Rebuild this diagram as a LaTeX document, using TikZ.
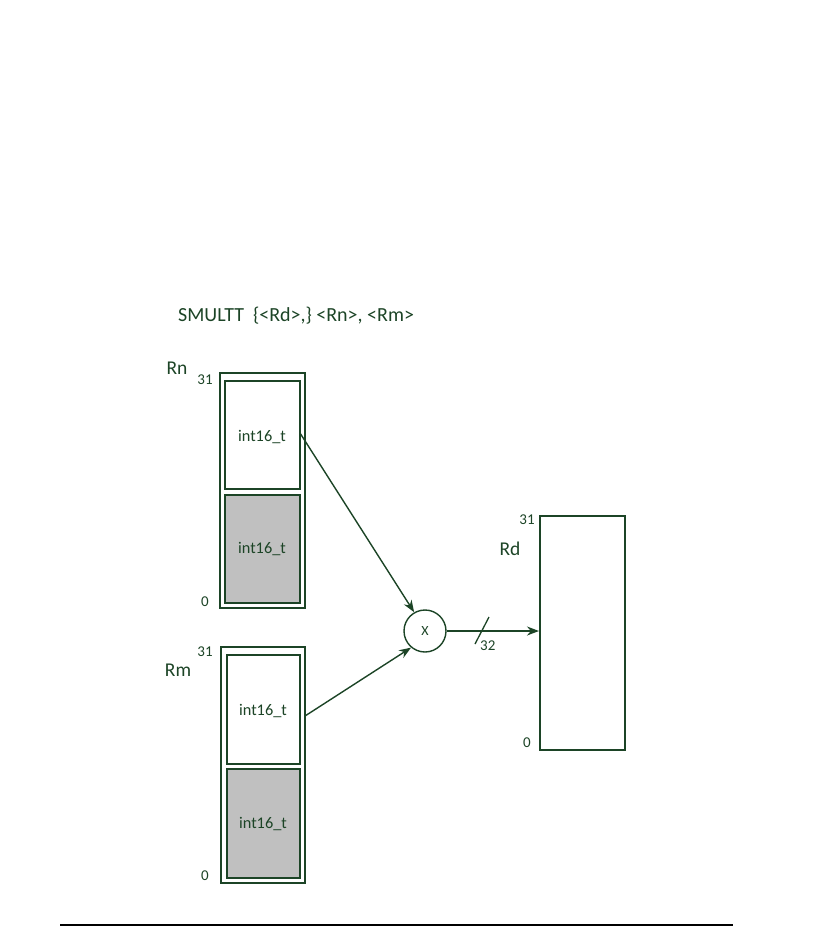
\documentclass[tikz,border=0pt]{standalone}
\usepackage{fontspec}
\setmainfont{Carlito}
\usetikzlibrary{arrows.meta}
\definecolor{dg}{RGB}{28,68,38}
\definecolor{cellgray}{RGB}{192,192,192}
\begin{document}
\begin{tikzpicture}[x=1pt,y=-1pt,
  box/.style={draw=dg,line width=1.7pt},
  cell/.style={draw=dg,line width=1.7pt},
  lbl/.style={text=dg,font=\fontsize{19.5}{22}\selectfont,inner sep=0pt},
  ttl/.style={text=dg,font=\fontsize{20}{23}\selectfont,inner sep=0pt},
  num/.style={text=dg,font=\fontsize{15}{17}\selectfont,inner sep=0pt},
  ctext/.style={text=dg,font=\fontsize{16.3}{18}\selectfont,inner sep=0pt},
  arr/.style={draw=dg,line width=1.4pt,-{Stealth[length=12pt,width=9pt]}}]
\useasboundingbox (0,0) rectangle (834,927);
% title
\node[ttl,anchor=west] (title) at (178,316) {SMULTT\ \ \{<Rd>,\} <Rn>, <Rm>};
% Rn
\node[lbl] (rnl) at (177,368) {Rn};
\draw[box] (220,373) rectangle (305,608);
\draw[cell] (225,381) rectangle (300,489);
\draw[cell,fill=cellgray] (225,495) rectangle (300,603);
\node[ctext] (rnhi) at (262,437) {int16\_t};
\node[ctext] (rnlo) at (262,549) {int16\_t};
\node[num] (rn31) at (205,380) {31};
\node[num] (rn0) at (205,602) {0};
\coordinate (rnout) at (300,433);
% Rm
\node[lbl] (rml) at (178,670) {Rm};
\draw[box] (221,647) rectangle (305,883);
\draw[cell] (227,655) rectangle (300,764);
\draw[cell,fill=cellgray] (227,769) rectangle (300,878);
\node[ctext] (rmhi) at (263,711) {int16\_t};
\node[ctext] (rmlo) at (263,824) {int16\_t};
\node[num] (rm31) at (205,652) {31};
\node[num] (rm0) at (205,876) {0};
\coordinate (rmout) at (305,716);
% multiplier
\node[draw=dg,line width=1.4pt,circle,minimum size=42pt,inner sep=0pt,text=dg,font=\fontsize{14}{16}\selectfont] (mul) at (425,631) {X};
% Rd
\node[box,minimum width=85pt,minimum height=234pt,inner sep=0pt,anchor=north west] (rd) at (539,515) {};
\node[lbl] (rdl) at (510,549) {Rd};
\node[num] (rd31) at (527,520) {31};
\node[num] (rd0) at (527,743) {0};
\coordinate (rdin) at (539,631);
% connectors
\draw[arr] (rnout) -- (mul.120);
\draw[arr] (rmout) -- (mul.-130);
\draw[arr] (mul.east) -- (rdin);
\coordinate (sl1) at (475,644);
\coordinate (sl2) at (489,617);
\draw[draw=dg,line width=1.3pt] (sl1) -- (sl2);
\node[num,anchor=west] (w32) at (480,646) {32};
% bottom rule
\coordinate (b1) at (60,925);
\coordinate (b2) at (733,925);
\draw[black,line width=1.8pt] (b1) -- (b2);
\end{tikzpicture}
\end{document}
